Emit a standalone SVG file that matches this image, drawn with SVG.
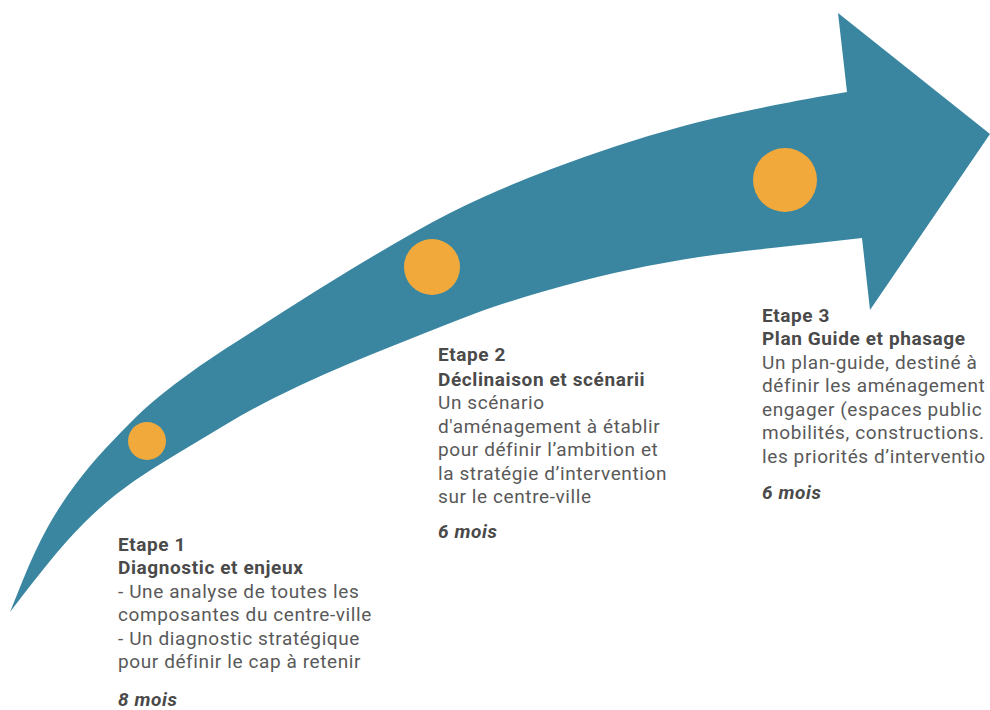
<svg xmlns="http://www.w3.org/2000/svg" width="990" height="710" viewBox="0 0 990 710">
<style>
.t{font-family:Roboto,"Liberation Sans",sans-serif;font-size:19px;letter-spacing:0.6px;fill:#595959}
.b{font-weight:bold;fill:#4a4a4a}
.m{font-weight:bold;font-style:italic;fill:#4a4a4a}
.dot{fill:#f2a93b}
</style>
<rect width="990" height="710" fill="#ffffff"/>
<g id="connectors">
<path id="arrow" fill="#3a86a1" d="M10,612 L22.5,581 Q35,550 47.5,527.5 Q60,505 75,485 Q90,465 105,449 Q120,433 135,418 Q150,403 175,384 Q200,365 225,349 Q250,333 283.5,311.5 Q317,290 350,270 Q383,250 416.5,231 Q450,212 483.5,197 Q517,182 550,169.5 Q583,157 616.5,146 Q650,135 683.5,126 Q717,117 758.5,108.5 Q800,100 823.5,96 L847,92 L838,13 L990,134 L870,310 L862,238 L831,241.5 Q800,245 758.5,249.5 Q717,254 683.5,259.5 Q650,265 616.5,272.5 Q583,280 541.5,292 Q500,304 475,313.5 Q450,323 425,333 Q400,343 375,353 Q350,363 325,374 Q300,385 275,397.5 Q250,410 225,425 Q200,440 185,449 Q170,458 151.5,469.5 Q133,481 116.5,494 Q100,507 83.5,523.5 Q67,540 50,561 Q33,582 21.5,597 Z"/>
</g>
<g id="step1">
<circle class="dot" cx="147" cy="441" r="19"/>
<text class="t"><tspan class="b" x="118" y="551">Etape 1</tspan><tspan class="b" x="118" y="574">Diagnostic et enjeux</tspan><tspan x="118" y="598">- Une analyse de toutes les</tspan><tspan x="118" y="621">composantes du centre-ville</tspan><tspan x="118" y="645">- Un diagnostic stratégique</tspan><tspan x="118" y="668">pour définir le cap à retenir</tspan><tspan class="m" x="118" y="706">8 mois</tspan></text>
</g>
<g id="step2">
<circle class="dot" cx="432" cy="267" r="28"/>
<text class="t"><tspan class="b" x="438" y="361">Etape 2</tspan><tspan class="b" x="438" y="386">Déclinaison et scénarii</tspan><tspan x="438" y="409">Un scénario</tspan><tspan x="438" y="433">d'aménagement à établir</tspan><tspan x="438" y="456">pour définir l’ambition et</tspan><tspan x="438" y="480">la stratégie d’intervention</tspan><tspan x="438" y="503">sur le centre-ville</tspan><tspan class="m" x="438" y="538">6 mois</tspan></text>
</g>
<g id="step3">
<circle class="dot" cx="785" cy="180" r="32"/>
<text class="t"><tspan class="b" x="762" y="322">Etape 3</tspan><tspan class="b" x="762" y="345">Plan Guide et phasage</tspan><tspan x="762" y="369">Un plan-guide, destiné à</tspan><tspan x="762" y="392">définir les aménagement</tspan><tspan x="762" y="416">engager (espaces public</tspan><tspan x="762" y="439">mobilités, constructions.</tspan><tspan x="762" y="463">les priorités d’interventio</tspan><tspan class="m" x="762" y="499">6 mois</tspan></text>
</g>
</svg>
